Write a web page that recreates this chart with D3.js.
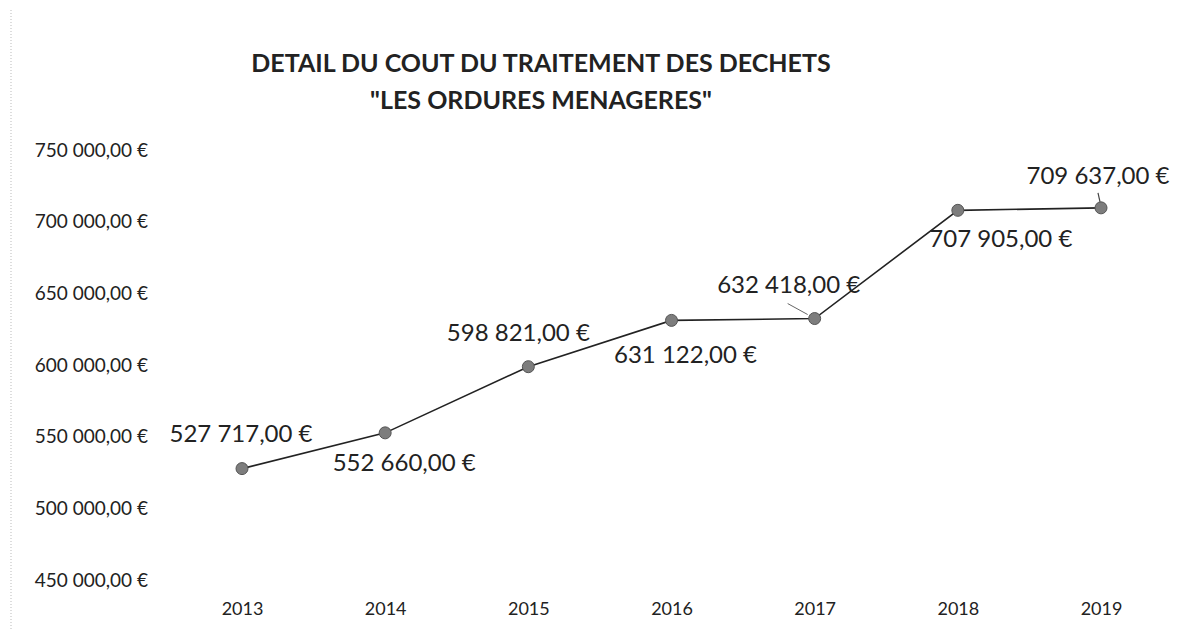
<!DOCTYPE html>
<html>
<head>
<meta charset="utf-8">
<script src="https://cdn.jsdelivr.net/npm/d3@7"></script>
<style>
  body { margin: 0; background: #fff; }
  svg { display: block; font-family: Lato, "Open Sans", sans-serif; }
</style>
</head>
<body>
<script>
// data
var years = ['2013', '2014', '2015', '2016', '2017', '2018', '2019'];
var costs = [527717, 552660, 598821, 631122, 632418, 707905, 709637];
var yTicks = [450000, 500000, 550000, 600000, 650000, 700000, 750000];
var titleLines = ['DETAIL DU COUT DU TRAITEMENT DES DECHETS', '"LES ORDURES MENAGERES"'];

// where each value label sits relative to its point (dx, dy)
var labelOffsets = [[-1, -35], [19, 30], [-10, -34], [14, 34], [-26, -34], [43, 28], [-3, -32]];

var width = 1196, height = 630;

var svg = d3.select('body').append('svg')
    .attr('width', width)
    .attr('height', height);

//euro format like excel "527 717,00 €"
var fmt = function(v) {
    return d3.format(',.2f')(v).replace(/,/g, ' ').replace('.', ',') + ' €';
};

var x = d3.scalePoint().domain(years).range([242, 1101]);
var y = d3.scaleLinear().domain([450000, 750000]).range([580, 150]);

// scanner edge, faint dotted line on the left
svg.append('line')
    .attr('x1', 11).attr('x2', 11)
    .attr('y1', 10).attr('y2', height)
    .attr('stroke', '#bbb')
    .attr('stroke-dasharray', '1,2');

//title
svg.append('g').selectAll('text')
    .data(titleLines)
    .enter().append('text')
    .attr('x', 541)
    .attr('y', function(d, i) { return 72 + i * 37; })
    .attr('text-anchor', 'middle')
    .attr('font-size', 25)
    .attr('font-weight', 'bold')
    .attr('fill', '#222')
    .text(function(d) { return d; });

// y axis labels (no line, no ticks)
var yAxis = d3.axisLeft(y).tickValues(yTicks).tickSize(0).tickPadding(0).tickFormat(fmt);
var gy = svg.append('g')
    .attr('transform', 'translate(148,0)')
    .call(yAxis);
gy.select('.domain').remove();
gy.selectAll('text')
    .attr('font-family', 'Lato, sans-serif')
    .attr('font-size', 19)
    .attr('fill', '#222');

// x axis labels
var xAxis = d3.axisBottom(x).tickSize(0).tickPadding(0);
var gx = svg.append('g')
    .attr('transform', 'translate(0,602)')
    .call(xAxis);
gx.select('.domain').remove();
gx.selectAll('text')
    .attr('font-family', 'Lato, sans-serif')
    .attr('font-size', 18)
    .attr('fill', '#222');

var pts = years.map(function(d, i) { return {year: d, value: costs[i], off: labelOffsets[i]}; });

//line
var line = d3.line()
    .x(function(d) { return x(d.year); })
    .y(function(d) { return y(d.value); });

svg.append('path')
    .datum(pts)
    .attr('d', line)
    .attr('fill', 'none')
    .attr('stroke', '#222')
    .attr('stroke-width', 1.6);

// leader lines for 2017 and 2019 labels
svg.append('line')
    .attr('x1', x('2017') - 27).attr('y1', y(costs[4]) - 15)
    .attr('x2', x('2017') - 7).attr('y2', y(costs[4]) - 4)
    .attr('stroke', '#666').attr('stroke-width', 1);
svg.append('line')
    .attr('x1', x('2019') - 3).attr('y1', y(costs[6]) - 15)
    .attr('x2', x('2019') - 1).attr('y2', y(costs[6]) - 6)
    .attr('stroke', '#444').attr('stroke-width', 1.2);

//markers
svg.selectAll('.dot')
    .data(pts)
    .enter().append('circle')
    .attr('class', 'dot')
    .attr('cx', function(d) { return x(d.year); })
    .attr('cy', function(d) { return y(d.value); })
    .attr('r', 6)
    .attr('fill', '#7d7d7d')
    .attr('stroke', '#555')
    .attr('stroke-width', 1);

//value labels
svg.selectAll('.lbl')
    .data(pts)
    .enter().append('text')
    .attr('class', 'lbl')
    .attr('x', function(d) { return x(d.year) + d.off[0]; })
    .attr('y', function(d) { return y(d.value) + d.off[1]; })
    .attr('dy', '0.35em')
    .attr('text-anchor', 'middle')
    .attr('font-size', 24)
    .attr('fill', '#222')
    .text(function(d) { return fmt(d.value); });
</script>
</body>
</html>
